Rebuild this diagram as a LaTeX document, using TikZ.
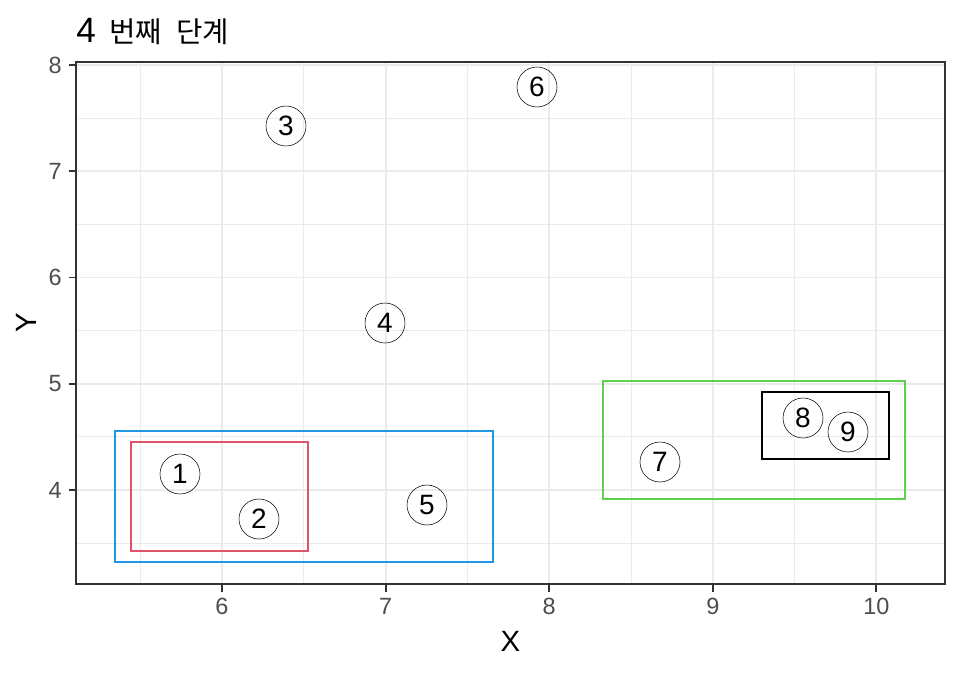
\documentclass[tikz,border=0pt]{standalone}
\usepackage{fontspec}
\setmainfont{Liberation Sans}
\newfontfamily\kr{Noto Sans CJK KR}
\definecolor{gmajor}{HTML}{EBEBEB}
\definecolor{g20}{HTML}{333333}
\definecolor{g30}{HTML}{4D4D4D}
\definecolor{cred}{HTML}{DF536B}
\definecolor{cblue}{HTML}{2297E6}
\definecolor{cgreen}{HTML}{61D04F}
\tikzset{
  pt/.style={circle,draw=black,line width=0.4pt,minimum size=30pt,inner sep=0pt,font=\fontsize{21}{21}\selectfont},
  ticklab/.style={text=g30,font=\fontsize{17.6}{17.6}\selectfont,inner sep=0pt},
  axtitle/.style={font=\fontsize{22}{22}\selectfont,inner sep=0pt},
  box/.style={line width=1.4pt},
  majorgrid/.style={gmajor,line width=1.4pt},
  minorgrid/.style={gmajor,line width=0.7pt}
}
\begin{document}
\begin{tikzpicture}[x=0.75pt,y=-0.75pt]
\useasboundingbox[fill=white] (0,0) rectangle (960,672);
% grid
\foreach \gx in {140.2,303.8,467.4,631,794.6} \draw[minorgrid] (\gx,62.3) -- (\gx,584.3);
\foreach \gy in {118.1,224.4,330.6,436.9,543.1} \draw[minorgrid] (76,\gy) -- (945,\gy);
\foreach \gx in {222,385.6,549.2,712.8,876.4} \draw[majorgrid] (\gx,62.3) -- (\gx,584.3);
\foreach \gy in {65,171.25,277.5,383.75,490} \draw[majorgrid] (76,\gy) -- (945,\gy);
% rectangles
\draw[box,cblue] (115.3,431) rectangle (492.7,561.7);
\draw[box,cred] (131,442) rectangle (308.3,550.7);
\draw[box,cgreen] (602.7,381) rectangle (905,498.7);
\draw[box,black] (761.7,392) rectangle (889.3,458.7);
% points
\node[pt] (p1) at (180,474) {1};
\node[pt] (p2) at (259,519) {2};
\node[pt] (p3) at (286,126) {3};
\node[pt] (p4) at (385,323) {4};
\node[pt] (p5) at (427,505) {5};
\node[pt] (p6) at (537,87) {6};
\node[pt] (p7) at (660,462) {7};
\node[pt] (p8) at (803,418) {8};
\node[pt] (p9) at (848,432) {9};
% panel border
\draw[g20,line width=1.4pt] (76,62.3) rectangle (945,584.3);
% ticks
\foreach \gx/\lab in {222/6,385.6/7,549.2/8,712.8/9,876.4/10}{
  \draw[g20,line width=1.4pt] (\gx,584.3) -- (\gx,591.5);
  \node[ticklab,anchor=north] (tx\lab) at (\gx,598) {\lab};
}
\foreach \gy/\lab in {65/8,171.25/7,277.5/6,383.75/5,490/4}{
  \draw[g20,line width=1.4pt] (76,\gy) -- (68.8,\gy);
  \node[ticklab,anchor=east] (ty\lab) at (62,\gy) {\lab};
}
% axis titles
\node[axtitle] (xt) at (510.5,641) {X};
\node[axtitle,rotate=90] (yt) at (26,323) {Y};
% title
\node[anchor=base west,inner sep=0pt,font=\fontsize{26.4}{26.4}\selectfont] (title) at (76,42) {4\hspace{10pt}{\kr\fontsize{21.5}{21.5}\selectfont 번째\hspace{11pt}단계}};
\end{tikzpicture}
\end{document}
